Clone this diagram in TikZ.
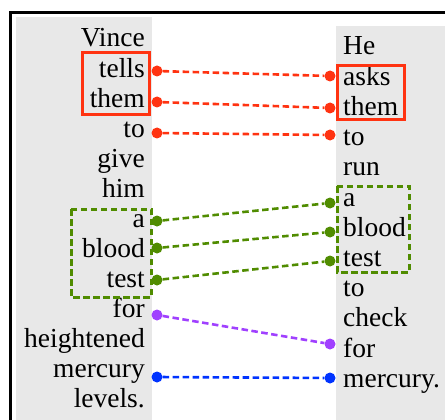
\documentclass[tikz,border=0pt]{standalone}
\usepackage{fontspec}
\setmainfont{Liberation Serif}
\definecolor{bgray}{RGB}{232,232,232}
\definecolor{cred}{RGB}{255,51,17}
\definecolor{cgreen}{RGB}{80,140,0}
\definecolor{cpurple}{RGB}{160,64,255}
\definecolor{cblue}{RGB}{0,51,255}
\begin{document}
\begin{tikzpicture}[x=1pt,y=-1pt,
  wfont/.style={font=\fontsize{27.5}{30}\selectfont},
  lword/.style={wfont,anchor=base east,inner sep=0pt},
  rword/.style={wfont,anchor=base west,inner sep=0pt},
  dotn/.style={circle,fill=#1,inner sep=0pt,minimum size=11pt},
  link/.style={draw=#1,line width=2.6pt,dash pattern=on 6.5pt off 3.5pt},
  solidbox/.style={draw=cred,line width=3pt},
  dashbox/.style={draw=cgreen,line width=3pt,dash pattern=on 6.5pt off 3.5pt}]
\useasboundingbox (0,0) rectangle (445,420);
\fill[bgray] (16,17) rectangle (152,420);
\fill[bgray] (336,26) rectangle (445,420);
\draw[line width=3.5pt] (10.5,425) -- (10.5,12.5) -- (450,12.5);
% left words
\foreach \w [count=\i] in {Vince,tells,them,to,give,him,a,blood,test,for,heightened,mercury,levels.}
  \node[lword] (l\i) at (145,{47+30.08*(\i-1)}) {\w};
% right words
\foreach \w [count=\i] in {He,asks,them,to,run,a,blood,test,to,check,for,mercury.}
  \node[rword] (r\i) at (343,{55+30.2*(\i-1)}) {\w};
% boxes
\draw[solidbox] (82,53) rectangle (149,115);
\draw[solidbox] (337,66) rectangle (404,120);
\draw[dashbox] (71,209) rectangle (151,297);
\draw[dashbox] (337,186) rectangle (409,272);
% dots
\node[dotn=cred] (a1) at (157,71) {};
\node[dotn=cred] (a2) at (157,102) {};
\node[dotn=cred] (a3) at (157,133) {};
\node[dotn=cred] (b1) at (330,76) {};
\node[dotn=cred] (b2) at (330,108) {};
\node[dotn=cred] (b3) at (330,135) {};
\node[dotn=cgreen] (a4) at (157,221) {};
\node[dotn=cgreen] (a5) at (157,248) {};
\node[dotn=cgreen] (a6) at (157,280) {};
\node[dotn=cgreen] (b4) at (330,203) {};
\node[dotn=cgreen] (b5) at (330,232) {};
\node[dotn=cgreen] (b6) at (330,261) {};
\node[dotn=cpurple] (a7) at (157,315) {};
\node[dotn=cpurple] (b7) at (330,344) {};
\node[dotn=cblue] (a8) at (157,377) {};
\node[dotn=cblue] (b8) at (330,378) {};
% links
\draw[link=cred] (a1) -- (b1);
\draw[link=cred] (a2) -- (b2);
\draw[link=cred] (a3) -- (b3);
\draw[link=cgreen] (a4) -- (b4);
\draw[link=cgreen] (a5) -- (b5);
\draw[link=cgreen] (a6) -- (b6);
\draw[link=cpurple] (a7) -- (b7);
\draw[link=cblue] (a8) -- (b8);
\end{tikzpicture}
\end{document}
